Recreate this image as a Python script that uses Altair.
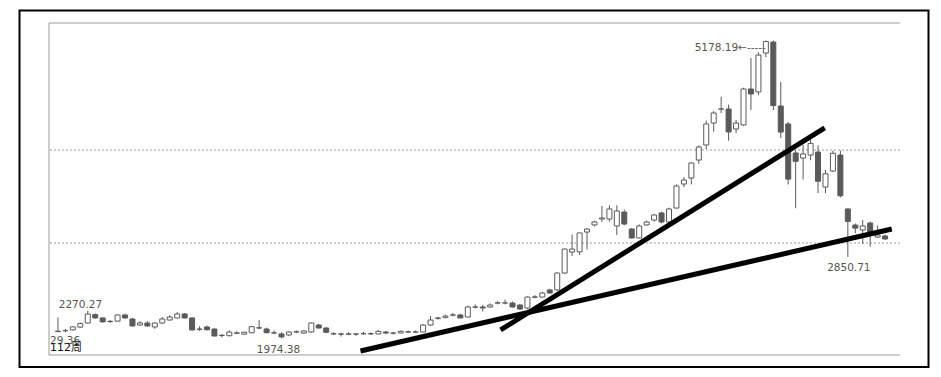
import altair as alt
import pandas as pd

dates = [
    "2013-08-16", "2013-08-23", "2013-08-30", "2013-09-06", "2013-09-13", "2013-09-18", "2013-09-27", "2013-09-30",
    "2013-10-11", "2013-10-18", "2013-10-25", "2013-11-01", "2013-11-08", "2013-11-15", "2013-11-22", "2013-11-29",
    "2013-12-06", "2013-12-13", "2013-12-20", "2013-12-27",
    "2014-01-03", "2014-01-10", "2014-01-17", "2014-01-24", "2014-01-30", "2014-02-07", "2014-02-14", "2014-02-21",
    "2014-02-28", "2014-03-07", "2014-03-14", "2014-03-21", "2014-03-28", "2014-04-04", "2014-04-11", "2014-04-18",
    "2014-04-25", "2014-04-30", "2014-05-09", "2014-05-16", "2014-05-23", "2014-05-30", "2014-06-06", "2014-06-13",
    "2014-06-20", "2014-06-27", "2014-07-04", "2014-07-11", "2014-07-18", "2014-07-25", "2014-08-01", "2014-08-08",
    "2014-08-15", "2014-08-22", "2014-08-29", "2014-09-05", "2014-09-12", "2014-09-19", "2014-09-26", "2014-09-30",
    "2014-10-10", "2014-10-17", "2014-10-24", "2014-10-31", "2014-11-07", "2014-11-14", "2014-11-21", "2014-11-28",
    "2014-12-05", "2014-12-12", "2014-12-19", "2014-12-26", "2014-12-31",
    "2015-01-09", "2015-01-16", "2015-01-23", "2015-01-30", "2015-02-06", "2015-02-13", "2015-02-17", "2015-02-27",
    "2015-03-06", "2015-03-13", "2015-03-20", "2015-03-27", "2015-04-03", "2015-04-10", "2015-04-17", "2015-04-24",
    "2015-04-30", "2015-05-08", "2015-05-15", "2015-05-22", "2015-05-29", "2015-06-05", "2015-06-12", "2015-06-19",
    "2015-06-26", "2015-07-03", "2015-07-10", "2015-07-17", "2015-07-24", "2015-07-31", "2015-08-07", "2015-08-14",
    "2015-08-21", "2015-08-28", "2015-09-02", "2015-09-11", "2015-09-18", "2015-09-25", "2015-09-30",
]

opens = [
    2047, 2058, 2066, 2095, 2140, 2230, 2194, 2155, 2160, 2226, 2183, 2118, 2140, 2097, 2140, 2172,
    2194, 2237, 2194, 2072,
    2097, 2075, 2005, 2003, 2033, 2020, 2035, 2088, 2075, 2032, 2022, 2011, 2043, 2032, 2043, 2118,
    2086, 2024, 2022, 2018, 2021, 2024, 2025, 2022, 2043, 2031, 2032, 2045, 2042, 2043, 2118, 2190,
    2200, 2225, 2226, 2204, 2311, 2312, 2312, 2354, 2355, 2355, 2333, 2301, 2418, 2419, 2495, 2495,
    2677, 2903, 2905, 3118, 3194,
    3258, 3258, 3183, 3333, 3150, 3054, 3194, 3247, 3323, 3226, 3376, 3634, 3699, 3892, 4054, 4290,
    4440, 4441, 4226, 4269, 4656, 4624, 5043, 5161, 4473, 4280, 3968, 3914, 3946, 3978, 3602, 3774,
    3946, 3366, 3193, 3140, 3215, 3064, 3075,
]
highs = [
    2199, 2075, 2100, 2145, 2270.27, 2242, 2200, 2172, 2230, 2242, 2195, 2160, 2159, 2142, 2204, 2223,
    2259, 2245, 2200, 2104,
    2112, 2082, 2020, 2060, 2050, 2046, 2110, 2172, 2090, 2060, 2040, 2050, 2060, 2060, 2146, 2130,
    2095, 2041, 2035, 2042, 2030, 2045, 2040, 2065, 2055, 2042, 2060, 2058, 2060, 2128, 2215, 2205,
    2230, 2248, 2240, 2327, 2340, 2335, 2350, 2375, 2391, 2370, 2345, 2425, 2440, 2475, 2508, 2683,
    2940, 3091, 3110, 3160, 3240,
    3398, 3406, 3406, 3360, 3160, 3200, 3240, 3312, 3336, 3380, 3632, 3708, 3865, 4050, 4317, 4420,
    4572, 4488, 4322, 4670, 4989, 5051, 5178.19, 5176, 4731, 4300, 4000, 4054, 4140, 4050, 3785, 3993,
    3995, 3373, 3210, 3247, 3230, 3190, 3090,
]
lows = [
    2044, 2040, 2060, 2088, 2135, 2186, 2145, 2140, 2155, 2186, 2100, 2112, 2100, 2077, 2131, 2165,
    2190, 2190, 2058, 2055,
    2060, 1995, 1985, 1996, 2020, 2015, 2030, 2075, 2030, 2020, 1974.38, 1998, 2030, 2026, 2035, 2080,
    2030, 2011, 1995, 2010, 2001, 2015, 2012, 2018, 2020, 2015, 2030, 2034, 2036, 2040, 2112, 2175,
    2190, 2212, 2195, 2200, 2295, 2262, 2305, 2340, 2340, 2305, 2285, 2287, 2405, 2412, 2455, 2488,
    2670, 2860, 2870, 2930, 3180,
    3226, 3230, 3086, 3190, 3049, 3049, 3185, 3230, 3212, 3215, 3370, 3600, 3630, 3850, 4010, 4197,
    4398, 4099, 4183, 4260, 4430, 4590, 5000, 4430, 4129, 3629, 3373.54, 3683, 3890, 3537, 3537, 3763,
    3490, 2850.71, 3107, 2990, 2960, 3054, 3035,
]
closes = [
    2052, 2057, 2098, 2135, 2236, 2194, 2152, 2158, 2226, 2194, 2108, 2140, 2108, 2140, 2183, 2204,
    2237, 2194, 2065, 2075,
    2067, 2000, 2008, 2043, 2030, 2040, 2100, 2086, 2035, 2034, 1990, 2043, 2045, 2054, 2140, 2086,
    2040, 2022, 2020, 2022, 2022, 2025, 2023, 2050, 2032, 2032, 2050, 2043, 2044, 2118, 2172, 2194,
    2215, 2226, 2194, 2312, 2312, 2301, 2333, 2356, 2356, 2312, 2290, 2419, 2420, 2462, 2462, 2677,
    2935, 2935, 3108, 3150, 3226,
    3269, 3366, 3344, 3204, 3054, 3183, 3226, 3301, 3226, 3366, 3613, 3677, 3860, 4032, 4280, 4398,
    4441, 4194, 4290, 4656, 4602, 5021, 5166, 4478, 4193, 3687, 3878, 3957, 4071, 3664, 3744, 3965,
    3508, 3232, 3160, 3183, 3118, 3086, 3043,
]

grid_prices = [3000, 4000]

trend_id = ["A", "A", "B", "B"]
trend_idx = [40.6, 111.9, 59.4, 102.9]
trend_price = [1839, 3150, 2065, 4237]

ann_idx = [4, 30, 95, 106]
ann_price = [2270.27, 1974.38, 5178.19, 2850.71]
ann_text = ["2270.27", "1974.38", "5178.19←-----", "2850.71"]

corner_texts = ["29.36", "112周"]

W, H = 851, 332
FONT = "DejaVu Sans, Noto Sans CJK SC"
GRAY = "#5a5a5a"

df = pd.DataFrame({"i": list(range(len(dates))), "date": dates,
                   "o": opens, "h": highs, "l": lows, "c": closes})
tr = pd.DataFrame({"id": trend_id, "i": trend_idx, "p": trend_price})
ann = pd.DataFrame({"i": ann_idx, "p": ann_price, "t": ann_text})

xs = alt.Scale(domain=[-0.53, 112.33], nice=False, zero=False)
ys = alt.Scale(domain=[1795.7, 5365.6], nice=False, zero=False)

one = alt.Data(values=[{}])

frame_top = alt.Chart(one).mark_rule(color="#9a9a9a", strokeWidth=1).encode(
    x=alt.value(0), x2=alt.value(W), y=alt.value(0))
frame_bottom = alt.Chart(one).mark_rule(color="#9a9a9a", strokeWidth=1).encode(
    x=alt.value(0), x2=alt.value(W), y=alt.value(H))
frame_left = alt.Chart(one).mark_rule(color="#9a9a9a", strokeWidth=1).encode(
    x=alt.value(0), y=alt.value(0), y2=alt.value(H))
outer = alt.Chart(one).mark_rect(filled=False, color="black", strokeWidth=2).encode(
    x=alt.value(-29.5), x2=alt.value(879.5), y=alt.value(-12.5), y2=alt.value(344))

grid = alt.Chart(pd.DataFrame({"p": grid_prices})).mark_rule(
    color="#9a9a9a", strokeDash=[2, 2], strokeWidth=1).encode(
    y=alt.Y("p:Q", scale=ys, axis=None))

base = alt.Chart(df)
X = alt.X("i:Q", scale=xs, axis=None)
wick = base.mark_rule(color=GRAY, strokeWidth=1).encode(
    x=X, y=alt.Y("l:Q", scale=ys, axis=None), y2="h:Q")
body = base.mark_bar(size=5, stroke=GRAY, strokeWidth=1).encode(
    x=X, y=alt.Y("o:Q", scale=ys, axis=None), y2="c:Q",
    fill=alt.condition("datum.c >= datum.o", alt.value("white"), alt.value(GRAY)))

trend = alt.Chart(tr).mark_line(color="black", strokeWidth=5, strokeCap="butt").encode(
    x=alt.X("i:Q", scale=xs, axis=None), y=alt.Y("p:Q", scale=ys, axis=None), detail="id:N")

def label(k, align, dx, dy):
    return alt.Chart(ann.iloc[[k]]).mark_text(
        align=align, baseline="alphabetic", dx=dx, dy=dy, font=FONT, fontSize=10.5, color="#555555"
    ).encode(x=alt.X("i:Q", scale=xs, axis=None), y=alt.Y("p:Q", scale=ys, axis=None), text="t:N")

lab1 = label(0, "left", -29, -3)
lab2 = label(1, "center", -3, 14.5)
lab3 = label(2, "right", 0, 10.5)
lab4 = label(3, "center", 1, 14)

c1 = alt.Chart(alt.Data(values=[{"t": corner_texts[0]}])).mark_text(
    align="left", baseline="alphabetic", font=FONT, fontSize=10.5, color="#555555").encode(
    x=alt.value(1), y=alt.value(321), text="t:N")
c2 = alt.Chart(alt.Data(values=[{"t": corner_texts[1]}])).mark_text(
    align="left", baseline="alphabetic", font=FONT, fontSize=11, color="#111111").encode(
    x=alt.value(1), y=alt.value(328), text="t:N")

chart = alt.layer(
    outer, frame_top, frame_bottom, frame_left, grid, wick, body, trend,
    lab1, lab2, lab3, lab4, c1, c2
).properties(
    width=W, height=H,
    autosize=alt.AutoSizeParams(type="none"),
    padding={"left": 41, "top": 15, "right": 31, "bottom": 13},
    background="white",
).configure_view(strokeWidth=0)

chart.save("out.html", embed_options={"renderer": "svg", "actions": False})
